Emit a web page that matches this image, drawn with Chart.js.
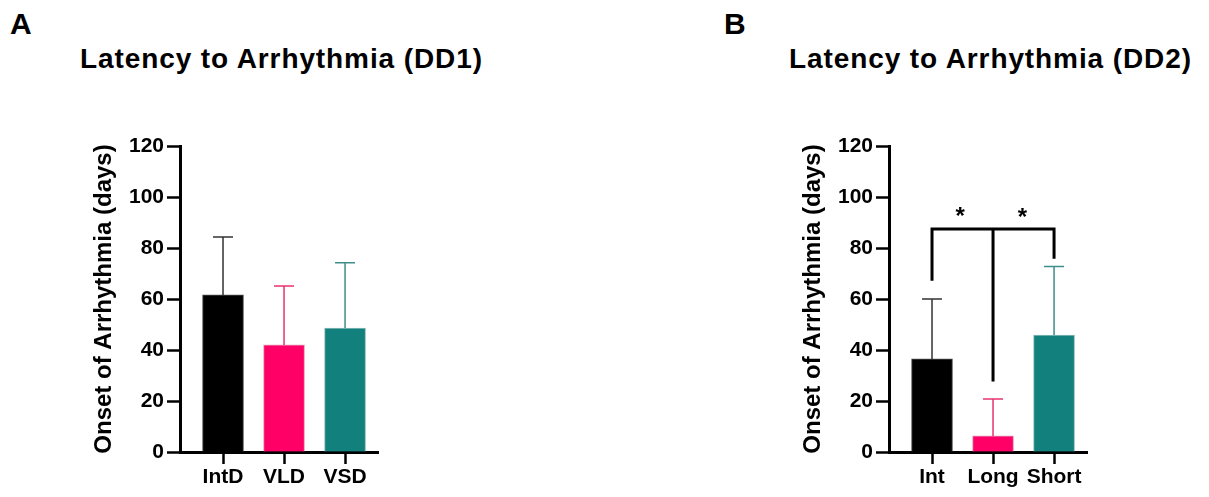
<!DOCTYPE html>
<html>
<head>
<meta charset="utf-8">
<script src="https://cdn.jsdelivr.net/npm/chart.js@4.4.1/dist/chart.umd.min.js"></script>
<style>
  body { margin: 0; background: #fff; width: 1209px; height: 497px; position: relative; overflow: hidden; }
  .panel { position: absolute; top: 0; height: 497px; }
  .letter, .title { position: absolute; font-family: "Liberation Sans", Arial, sans-serif; font-weight: bold; line-height: 1; color: #000; white-space: nowrap; }
  .letter { font-size: 30px; }
  .title { font-size: 28px; letter-spacing: 0.9px; }
</style>
</head>
<body>
<div class="letter" style="left:10px; top:9px;">A</div>
<div class="title" style="left:80px; top:45px;">Latency to Arrhythmia (DD1)</div>
<div class="letter" style="left:724px; top:9px;">B</div>
<div class="title" style="left:789px; top:45px;">Latency to Arrhythmia (DD2)</div>
<div class="panel" style="left:0; width:600px;"><canvas id="chartA" width="600" height="497"></canvas></div>
<div class="panel" style="left:709px; width:500px;"><canvas id="chartB" width="500" height="497"></canvas></div>
<script>
// panel A (DD1)
var labelsA = ["IntD", "VLD", "VSD"];
var meansA = [61.6, 42.0, 48.6];
var errA = [22.7, 23.1, 25.6];

// panel B (DD2)
var labelsB = ["Int", "Long", "Short"];
var meansB = [36.5, 6.3, 45.9];
var errB = [23.5, 14.5, 26.8];

var yTicks = [0, 20, 40, 60, 80, 100, 120];

var barColors = ["#000000", "#ff0066", "#12807c"];
var errColors = ["#333333", "#e8336f", "#3d8e8a"];

// significance bracket for panel B: legs at the 3 groups, bar height, leg ends
var bracketTop = 87.5;
var bracketLegs = [67.2, 27.6, 75.8];
var stars = [[0.46, 94], [1.48, 93.5]];

var errorBars = {
  id: 'errorBars',
  afterDatasetsDraw: function (chart, args, opts) {
    var ctx = chart.ctx;
    var y = chart.scales.y;
    var meta = chart.getDatasetMeta(0);
    ctx.save();
    ctx.lineWidth = 1.5;
    meta.data.forEach(function (bar, i) {
      var top = y.getPixelForValue(opts.means[i] + opts.errs[i]);
      ctx.strokeStyle = errColors[i];
      ctx.beginPath();
      ctx.moveTo(bar.x, bar.y);
      ctx.lineTo(bar.x, top);
      ctx.moveTo(bar.x - 10, top);
      ctx.lineTo(bar.x + 10, top);
      ctx.stroke();
    });
    ctx.restore();
  }
};

var bracket = {
  id: 'bracket',
  afterDatasetsDraw: function (chart, args, opts) {
    if (!opts.show) return;
    var ctx = chart.ctx;
    var x = chart.scales.x, y = chart.scales.y;
    var yt = y.getPixelForValue(bracketTop);
    ctx.save();
    ctx.strokeStyle = "#000";
    ctx.lineWidth = 3;
    ctx.lineCap = "butt";
    ctx.beginPath();
    ctx.moveTo(x.getPixelForValue(0) - 1.5, yt);
    ctx.lineTo(x.getPixelForValue(2) + 1.5, yt);
    bracketLegs.forEach(function (v, i) {
      var px = x.getPixelForValue(i);
      ctx.moveTo(px, yt - 1.5);
      ctx.lineTo(px, y.getPixelForValue(v));
    });
    ctx.stroke();
    ctx.fillStyle = "#000";
    ctx.font = "bold 24px 'Liberation Sans', Arial, sans-serif";
    ctx.textAlign = "center";
    ctx.textBaseline = "middle";
    stars.forEach(function (s) {
      ctx.fillText("*", x.getPixelForValue(s[0]), y.getPixelForValue(s[1]) + 5);
    });
    ctx.restore();
  }
};

function makeChart(id, width, labels, means, errs, showBracket) {
  var pts = means.map(function (m, i) { return { x: i, y: m }; });
  return new Chart(id, {
    type: 'bar',
    data: {
      datasets: [{
        data: pts,
        backgroundColor: barColors,
        borderColor: ["#555555", "#e0a0b8", "#8cbcba"],
        borderWidth: 1,
        barThickness: 41
      }]
    },
    options: {
      responsive: false,
      animation: false,
      layout: { padding: { left: 0, top: 146, right: width - 378, bottom: 0 } },
      plugins: {
        legend: { display: false },
        tooltip: { enabled: false },
        errorBars: { means: means, errs: errs },
        bracket: { show: showBracket }
      },
      scales: {
        x: {
          type: 'linear',
          offset: false,
          min: -0.705,
          max: 2.54,
          afterBuildTicks: function (s) {
            s.ticks = labels.map(function (l, i) { return { value: i }; });
          },
          afterFit: function (s) { s.height = 45; },
          ticks: {
            autoSkip: false,
            maxRotation: 0,
            padding: 1,
            color: "#000",
            font: { family: "'Liberation Sans', Arial, sans-serif", size: 21, weight: 'bold' },
            callback: function (v) { return labels[v]; }
          },
          grid: { offset: false, drawOnChartArea: false, drawTicks: true, tickLength: 12, tickWidth: 2.5, color: "#000" },
          border: { display: true, width: 3, color: "#000" }
        },
        y: {
          min: 0,
          max: 120,
          afterBuildTicks: function (s) {
            s.ticks = yTicks.map(function (v) { return { value: v }; });
          },
          afterFit: function (s) { s.width = 180; },
          ticks: {
            padding: 3,
            color: "#000",
            font: { family: "'Liberation Sans', Arial, sans-serif", size: 21, weight: 'bold' }
          },
          grid: { drawOnChartArea: false, drawTicks: true, tickLength: 13, tickWidth: 2.5, color: "#000" },
          border: { display: true, width: 3, color: "#000" },
          title: {
            display: true,
            text: "Onset of Arrhythmia (days)",
            color: "#000",
            padding: { top: 90, bottom: 0 },
            font: { family: "'Liberation Sans', Arial, sans-serif", size: 24, weight: 'bold' }
          }
        }
      }
    },
    plugins: [errorBars, bracket]
  });
}

makeChart("chartA", 600, labelsA, meansA, errA, false);
makeChart("chartB", 500, labelsB, meansB, errB, true);
</script>
</body>
</html>
